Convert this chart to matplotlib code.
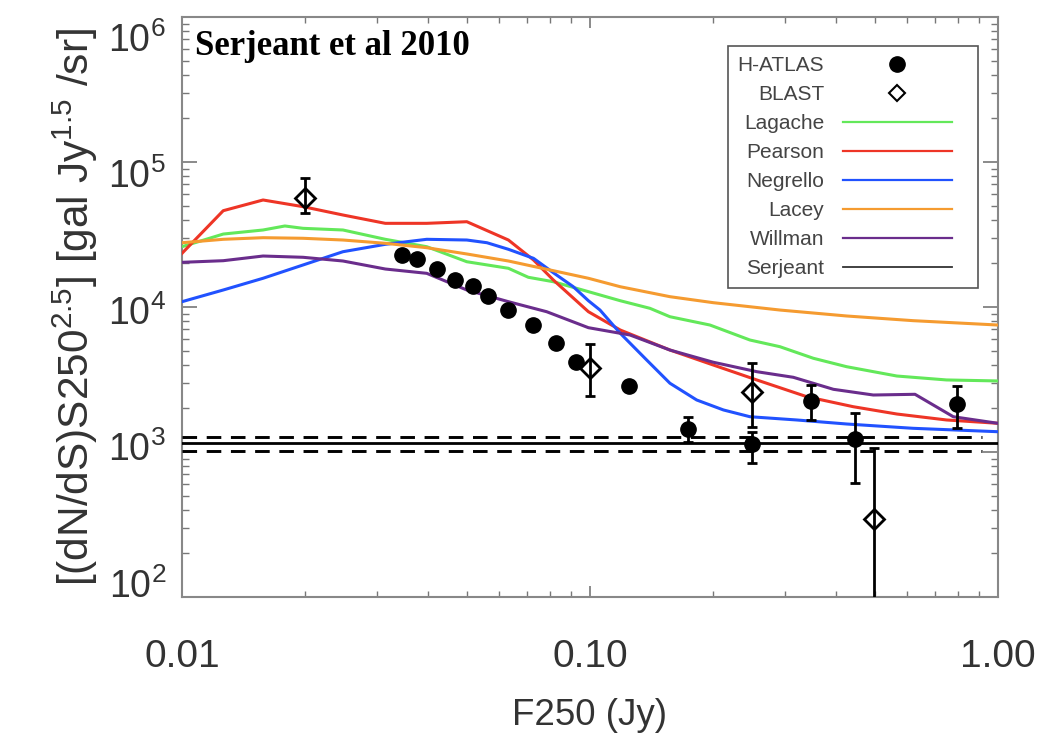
import numpy as np
import matplotlib
matplotlib.use('Agg')
import matplotlib.pyplot as plt
from matplotlib.lines import Line2D
from matplotlib.legend_handler import HandlerLine2D
from matplotlib.ticker import (FixedLocator, FuncFormatter, LogLocator,
                               NullFormatter, NullLocator)

nan = np.nan

# ---------------- data ----------------
hatlas_F = [0.0346, 0.0377, 0.0422, 0.0467, 0.0517, 0.0562, 0.0629, 0.0725,
            0.0826, 0.0924, 0.1246, 0.1742, 0.249, 0.348, 0.447, 0.794]
hatlas_N = [22860, 21400, 18300, 15350, 13960, 11910, 9530, 7510,
            5650, 4175, 2864, 1441, 1130, 2258, 1224, 2143]
hatlas_hi = [nan] * 11 + [1735, 1380, 2897, 1849, 2851]
hatlas_lo = [nan] * 11 + [1178, 836, 1663, 608, 1471]

blast_F = [0.0200, 0.100, 0.249, 0.497]
blast_N = [56700, 3777, 2606, 344]
blast_hi = [77200, 5530, 4130, 1061]
blast_lo = [44300, 2446, 1494, 5]

lagache_F = [0.0100, 0.01262, 0.0158, 0.01787, 0.0198, 0.0248, 0.0315, 0.0398,
             0.0499, 0.0631, 0.0706, 0.0813, 0.0991, 0.1186, 0.1403, 0.157,
             0.1968, 0.2466, 0.292, 0.3527, 0.4256, 0.565, 0.748, 1.0]
lagache_N = [26050, 31850, 33970, 36200, 34880, 33970, 29300, 26050,
             20520, 18490, 16030, 14940, 12760, 11050, 9790, 8570,
             7510, 5920, 5325, 4430, 3875, 3342, 3140, 3090]

pearson_F = [0.0100, 0.01262, 0.0158, 0.0198, 0.0248, 0.0315, 0.0398, 0.0499,
             0.0631, 0.0727, 0.0813, 0.0991, 0.1186, 0.157, 0.2005, 0.2563,
             0.340, 0.4417, 0.565, 0.748, 1.0]
pearson_N = [23450, 46150, 54700, 49200, 43100, 37760, 37760, 38740,
             28970, 21100, 15360, 9280, 6940, 5050, 3980, 3140,
             2406, 2053, 1828, 1663, 1577]

negrello_F = [0.0100, 0.01262, 0.0158, 0.0198, 0.0248, 0.0315, 0.0398, 0.0499,
              0.0559, 0.0631, 0.0727, 0.0813, 0.0910, 0.0991, 0.1058, 0.1186,
              0.1377, 0.157, 0.1826, 0.2123, 0.2466, 0.321, 0.4256, 0.619, 1.0]
negrello_N = [10880, 13100, 15780, 19490, 24060, 27060, 29300, 28970,
              27750, 25000, 21660, 17240, 13800, 11050, 9530, 6590,
              4310, 2980, 2284, 1950, 1751, 1663, 1560, 1457, 1380]

lacey_F = [0.0100, 0.01262, 0.0158, 0.0198, 0.0248, 0.0315, 0.0398, 0.0499,
           0.0631, 0.0813, 0.0991, 0.1186, 0.157, 0.2005, 0.292, 0.4256,
           0.619, 1.0]
lacey_N = [27750, 29300, 30060, 29780, 28970, 27500, 25640, 23210,
           20760, 17800, 15780, 13800, 11780, 10710, 9530, 8670,
           8050, 7510]

willman_F = [0.0100, 0.01262, 0.0158, 0.0198, 0.0248, 0.0315, 0.0398, 0.0499,
             0.0631, 0.0783, 0.0991, 0.1253, 0.157, 0.2005, 0.2563, 0.315,
             0.395, 0.4947, 0.626, 0.777, 1.0]
willman_N = [20330, 20860, 22470, 22020, 20760, 18280, 17070, 13100,
             10880, 9280, 7200, 6410, 5050, 4160, 3580, 3275,
             2706, 2472, 2500, 1751, 1577]

serjeant_level = 1148
serjeant_band = [1021, 1276]
serjeant_dash_span = [0.01, 0.914]

model_names = ['Lagache', 'Pearson', 'Negrello', 'Lacey', 'Willman']
model_F = [lagache_F, pearson_F, negrello_F, lacey_F, willman_F]
model_N = [lagache_N, pearson_N, negrello_N, lacey_N, willman_N]
model_colors = ['#63e85a', '#ee3526', '#2152ff', '#f59b30', '#6a2d8c']

x_ticks = [0.01, 0.1, 1.0]

# ---------------- style ----------------
plt.rcParams['font.family'] = ['Liberation Sans', 'DejaVu Sans']
plt.rcParams['mathtext.fontset'] = 'custom'
plt.rcParams['mathtext.rm'] = 'Liberation Sans'
plt.rcParams['mathtext.it'] = 'Liberation Sans:italic'
plt.rcParams['mathtext.bf'] = 'Liberation Sans:bold'

txt_color = '#333333'
frame_color = '#888888'

fig = plt.figure(figsize=(10.5, 7.44), dpi=100)
W, H = 1050, 744
ax = fig.add_axes([182 / W, 1 - 597 / H, 816 / W, 580 / H])
ax.set_xscale('log')
ax.set_yscale('log')

# models
for F, N, c in zip(model_F, model_N, model_colors):
    ax.plot(F, N, color=c, lw=2.2, zorder=3)

# Serjeant
ax.axhline(serjeant_level, color='k', lw=2.0, zorder=3)
ax.hlines(serjeant_band, serjeant_dash_span[0], serjeant_dash_span[1],
          colors='k', lw=2.1, linestyles=[(0, (5, 3.3))], zorder=3)

# H-ATLAS
hF = np.array(hatlas_F); hN = np.array(hatlas_N)
hhi = np.array(hatlas_hi); hlo = np.array(hatlas_lo)
m = np.isfinite(hhi)
ax.errorbar(hF[m], hN[m], yerr=[hN[m] - hlo[m], hhi[m] - hN[m]], fmt='none',
            ecolor='k', elinewidth=2.0, capsize=3.5, capthick=2.0, zorder=4)
ax.plot(hF, hN, 'o', color='k', ms=11, zorder=5)

# BLAST
bF = np.array(blast_F); bN = np.array(blast_N)
ax.errorbar(bF, bN, yerr=[bN - np.array(blast_lo), np.array(blast_hi) - bN],
            fmt='none', ecolor='k', elinewidth=2.0, capsize=3.5, capthick=2.0, zorder=4)
ax.plot(bF, bN, 'D', mfc='none', mec='k', mew=2.0, ms=10, zorder=5)

ax.set_xlim(0.01, 1.0)
ax.set_ylim(100, 1e6)

# ticks
ax.xaxis.set_major_locator(FixedLocator(x_ticks))
ax.xaxis.set_major_formatter(FuncFormatter(lambda v, p: '%.2f' % v))
ax.xaxis.set_minor_locator(LogLocator(base=10, subs=np.arange(2, 10)))
ax.xaxis.set_minor_formatter(NullFormatter())
ax.yaxis.set_minor_locator(LogLocator(base=10, subs=np.arange(2, 10), numticks=20))
ax.yaxis.set_minor_formatter(NullFormatter())

ax.tick_params(which='both', direction='in', top=True, right=True,
               color='#777777', labelcolor=txt_color)
ax.tick_params(axis='x', which='major', length=8, width=1.2, pad=30, labelsize=28)
ax.tick_params(axis='x', which='minor', length=4, width=1.0)
ax.tick_params(axis='y', which='major', length=11, width=1.2, labelleft=False)
ax.tick_params(axis='y', which='minor', length=5, width=1.0)

for s in ax.spines.values():
    s.set_color(frame_color)
    s.set_linewidth(1.5)

# y tick labels (in the reference they sit on a slightly compressed scale)
lab = fig.add_axes([182 / W, 1 - 583 / H, 0.5 / W, (583 - 37) / H])
lab.set_yscale('log')
lab.set_ylim(100, 1e6)
lab.set_xticks([])
lab.yaxis.set_minor_locator(NullLocator())
lab.tick_params(axis='y', length=0, pad=11.5, labelsize=27, labelcolor=txt_color)
lab.patch.set_visible(False)
for s in lab.spines.values():
    s.set_visible(False)

ax.set_ylabel(r'[(dN/dS)S250$^{2.5}$] [gal Jy$^{1.5}$ /sr]', fontsize=30.5, color=txt_color)
ax.yaxis.set_label_coords(-0.10, 0.5)
ax.set_xlabel('F250 (Jy)', fontsize=26.5, color=txt_color)
ax.xaxis.set_label_coords(0.5, -0.174)

ax.text(0.016, 0.9345, 'Serjeant et al 2010', transform=ax.transAxes,
        fontfamily='Liberation Serif', fontweight='bold', fontsize=25,
        ha='left', va='baseline', color='k', zorder=6)


# legend: handle boxes leave a gap on their right, as in the reference
class GapHandler(HandlerLine2D):
    def __init__(self, gap, **kw):
        super().__init__(**kw)
        self.gap = gap

    def create_artists(self, legend, orig_handle, xdescent, ydescent,
                       width, height, fontsize, trans):
        return super().create_artists(legend, orig_handle, xdescent, ydescent,
                                      width - self.gap, height, fontsize, trans)


handles = [Line2D([], [], marker='o', ls='none', color='k', ms=11),
           Line2D([], [], marker='D', ls='none', mfc='none', mec='k', mew=1.5, ms=8)]
labels = ['H-ATLAS', 'BLAST']
for name, c in zip(model_names, model_colors):
    handles.append(Line2D([], [], color=c, lw=1.6))
    labels.append(name)
handles.append(Line2D([], [], color='#333333', lw=1.3))
labels.append('Serjeant')

leg_fs = 15
leg = ax.legend(handles, labels, loc='upper right',
                bbox_to_anchor=((978 - 182) / 816, 1 - (46 - 17) / 580),
                borderaxespad=0, markerfirst=False, fontsize=leg_fs, numpoints=1,
                handlelength=6.0, handletextpad=0.9, labelspacing=0.48,
                borderpad=0.48, fancybox=False, framealpha=1,
                edgecolor='#555555', labelcolor='#444444',
                handler_map={Line2D: GapHandler(gap=0.77 * leg_fs)})
leg.get_frame().set_linewidth(1.2)
leg.set_zorder(7)

fig.savefig('out.png', dpi=100)
